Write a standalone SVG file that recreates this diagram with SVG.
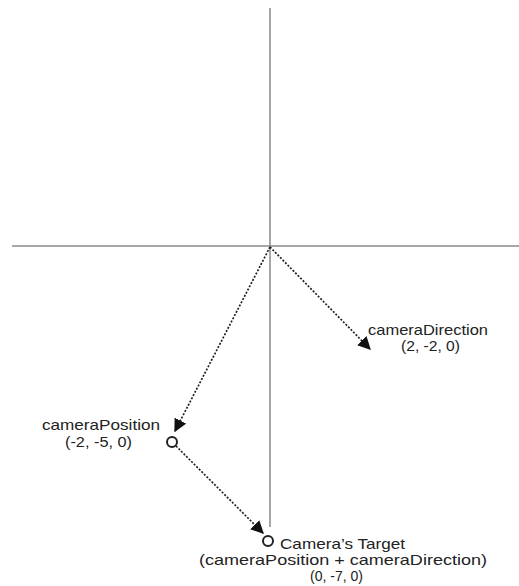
<svg xmlns="http://www.w3.org/2000/svg" width="519" height="586" viewBox="0 0 519 586">
<style>
.axis{stroke:#8a8a8a;stroke-width:1.5;fill:none}
.vec{stroke:#222;stroke-width:1.7;stroke-dasharray:2 1.6;fill:none}
.pt{fill:#fff;stroke:#222;stroke-width:2}
text{font-family:"Liberation Sans",Arial,sans-serif;font-size:15px;fill:#222}
</style>
<defs>
<marker id="ah" viewBox="0 0 10 10" refX="9" refY="5" markerWidth="13" markerHeight="13" markerUnits="userSpaceOnUse" orient="auto">
<path d="M0,0 L10,5 L0,10 Z" fill="#111"/>
</marker>
</defs>
<g id="axes">
<line class="axis" x1="270" y1="8" x2="270" y2="527"/>
<line class="axis" x1="12" y1="246" x2="519" y2="246"/>
</g>
<g id="connectors">
<line class="vec" x1="270" y1="247" x2="370" y2="349" marker-end="url(#ah)"/>
<line class="vec" x1="270" y1="247" x2="175" y2="431" marker-end="url(#ah)"/>
<line class="vec" x1="176" y1="446" x2="263" y2="533" marker-end="url(#ah)"/>
</g>
<g id="cameraDirection">
<text x="368" y="335" textLength="120" lengthAdjust="spacingAndGlyphs">cameraDirection</text>
<text x="401" y="351" textLength="59" lengthAdjust="spacingAndGlyphs">(2, -2, 0)</text>
</g>
<g id="cameraPosition">
<circle class="pt" cx="172" cy="442" r="5"/>
<text x="42" y="430" textLength="118" lengthAdjust="spacingAndGlyphs">cameraPosition</text>
<text x="65" y="447" textLength="67" lengthAdjust="spacingAndGlyphs">(-2, -5, 0)</text>
</g>
<g id="cameraTarget">
<circle class="pt" cx="268" cy="541" r="5"/>
<text x="280" y="549" textLength="125" lengthAdjust="spacingAndGlyphs">Camera’s Target</text>
<text x="199" y="565" textLength="288" lengthAdjust="spacingAndGlyphs">(cameraPosition + cameraDirection)</text>
<text x="310" y="581" textLength="53" lengthAdjust="spacingAndGlyphs">(0, -7, 0)</text>
</g>
</svg>
